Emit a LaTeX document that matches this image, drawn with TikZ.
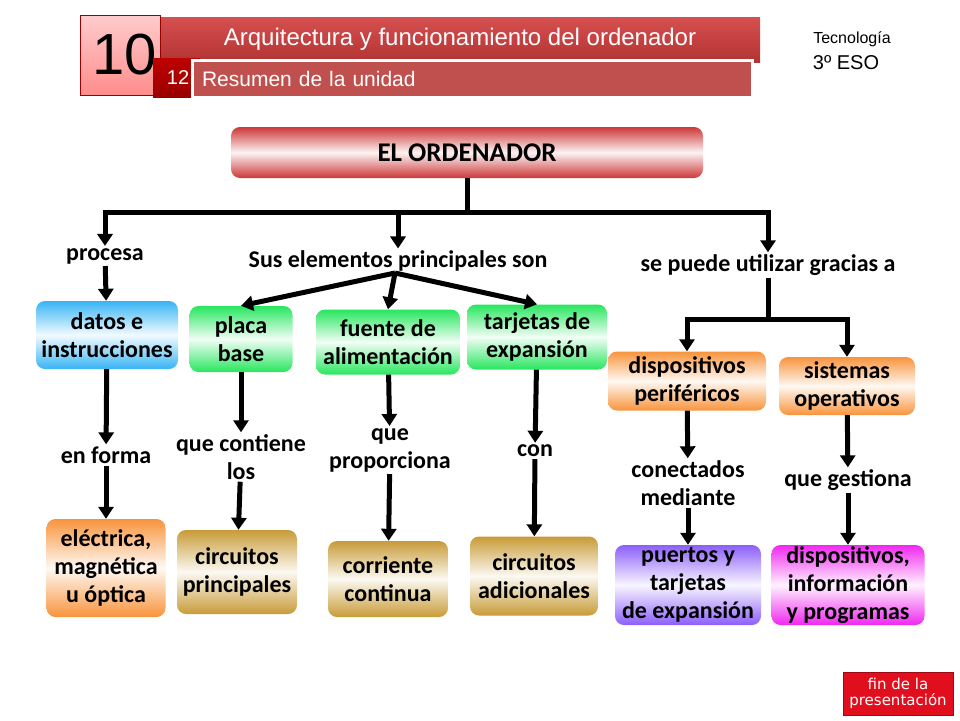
\documentclass[tikz,border=0pt]{standalone}
\usepackage{fontspec}
\setmainfont{Carlito}
\newfontfamily\arialfont{Liberation Sans}
\newfontfamily\btnfont{DejaVu Sans}
\usetikzlibrary{arrows.meta}

\definecolor{ordred}{RGB}{205,55,55}
\definecolor{datblue}{RGB}{55,180,245}
\definecolor{elemgreen}{RGB}{40,230,95}
\definecolor{perorange}{RGB}{248,148,60}
\definecolor{circgold}{RGB}{200,155,55}
\definecolor{portpurple}{RGB}{140,95,250}
\definecolor{infomag}{RGB}{240,40,240}
\definecolor{barred}{RGB}{210,60,60}
\definecolor{subred}{RGB}{192,80,77}
\definecolor{btnred}{RGB}{225,15,30}

\begin{document}
\begin{tikzpicture}[x=1pt, y=-1pt,
    box/.style={rounded corners=9pt, align=center, inner sep=0pt,
      font=\fontsize{24}{28}\selectfont\bfseries,
      shade, top color=#1, bottom color=#1, middle color=#1!6},
    lbl/.style={align=center, inner sep=2pt,
      font=\fontsize{24}{28}\selectfont\bfseries},
    arr/.style={line width=5pt, -{Triangle[length=12pt,width=15pt]}},
    trunk/.style={line width=5pt}]
    \useasboundingbox (0,0) rectangle (960,720);

    % cabecera
    \node[shade, top color=barred!90, bottom color=barred!85!black,
      minimum width=600pt, minimum height=45pt, inner sep=0pt,
      text=white, font=\arialfont\fontsize{24}{28}\selectfont]
      (titulo) at (460,39.5) {Arquitectura y funcionamiento del ordenador};
    \node[draw=red!60!black, line width=0.6pt, shade,
      top color=red!20, bottom color=red!45,
      minimum width=80pt, minimum height=80pt, inner sep=0pt,
      font=\arialfont\fontsize{58}{58}\selectfont]
      (unidad) at (120,55) {\hspace*{10pt}\raisebox{-3pt}{10}};
    \node[shade, top color=red!75!black, bottom color=red!60!black,
      minimum width=47pt, minimum height=39pt, inner sep=0pt,
      text=white, font=\arialfont\fontsize{20}{22}\selectfont]
      (tema) at (176.5,77.5) {\hspace*{3pt}12};
    \node[fill=subred, draw=white, line width=3pt,
      text width=540pt, align=left, inner xsep=10pt, minimum height=37pt,
      text=white, font=\arialfont\fontsize{21}{24}\selectfont]
      (resumen) at (472,78.5) {Resumen de la unidad};
    \node[font=\arialfont\fontsize{16}{18}\selectfont] (materia) at (852,39) {Tecnología};
    \node[font=\arialfont\fontsize{20}{22}\selectfont] (curso) at (846,63) {3º ESO};

    % nodo principal
    \node[box=ordred, minimum width=472pt, minimum height=51pt,
      font=\fontsize{27}{30}\selectfont\bfseries] (ord) at (467,152.5) {EL ORDENADOR};

    % etiquetas del primer nivel
    \node[lbl] (procesa) at (105,256) {procesa};
    \node[lbl] (sus) at (398,261) {Sus elementos principales son};
    \node[lbl] (gracias) at (768,265) {se puede utilizar gracias a};

    % cajas del segundo nivel
    \node[box=datblue, minimum width=142pt, minimum height=68pt] (datos) at (107,335) {datos e\\instrucciones};
    \node[box=elemgreen, minimum width=103pt, minimum height=66pt] (placa) at (241,339) {placa\\base};
    \node[box=elemgreen, minimum width=144pt, minimum height=65pt] (fuente) at (388,342) {fuente de\\alimentación};
    \node[box=elemgreen, minimum width=140pt, minimum height=65pt] (tarjetas) at (537,337) {tarjetas de\\expansión};
    \node[box=perorange, minimum width=158pt, minimum height=59pt] (perif) at (687,381) {dispositivos\\periféricos};
    \node[box=perorange, minimum width=136pt, minimum height=58pt] (sisop) at (847,386) {sistemas\\operativos};

    % etiquetas del tercer nivel
    \node[lbl] (enforma) at (106,455) {en forma};
    \node[lbl] (contiene) at (241,457) {que contiene\\los};
    \node[lbl] (proporciona) at (390,450) {que\\proporciona};
    \node[lbl] (con) at (535,451) {con};
    \node[lbl] (conectados) at (688,483) {conectados\\mediante};
    \node[lbl] (gestiona) at (848,480) {que gestiona};

    % cajas finales
    \node[box=perorange, minimum width=119pt, minimum height=98pt] (electrica) at (106,568) {eléctrica,\\magnética\\u óptica};
    \node[box=circgold, minimum width=120pt, minimum height=84pt] (cprinc) at (237,572) {circuitos\\principales};
    \node[box=circgold, minimum width=120pt, minimum height=76pt] (corriente) at (388,579) {corriente\\continua};
    \node[box=circgold, minimum width=128pt, minimum height=79pt] (cadic) at (534,576) {circuitos\\adicionales};
    \node[box=portpurple, minimum width=146pt, minimum height=80pt] (puertos) at (688,585) {puertos y\\tarjetas\\de expansión};
    \node[box=infomag, minimum width=153pt, minimum height=80pt] (dispinfo) at (848,585) {dispositivos,\\información\\y programas};

    % ramas
    \coordinate (hub) at (467,212);
    \coordinate (fork) at (395,273);
    \coordinate (split) at (768,319);
    \draw[trunk] (ord) -- (hub);
    \draw[arr] (hub) -| (procesa);
    \draw[arr] (hub) -| (sus);
    \draw[arr] (hub) -| (gracias);
    \draw[arr] (procesa) -- (datos);
    \draw[arr] (fork) -- (placa.north);
    \draw[arr] (fork) -- (fuente.north);
    \draw[arr] (fork) -- (tarjetas.north);
    \draw[trunk] (gracias) -- (split);
    \draw[arr] (split) -| (perif);
    \draw[arr] (split) -| (sisop);

    % flechas verticales
    \draw[arr] (datos) -- (enforma);
    \draw[arr] (enforma) -- (electrica);
    \draw[arr] (placa) -- (contiene);
    \draw[arr] (contiene) -- (cprinc);
    \draw[arr] (fuente) -- (proporciona);
    \draw[arr] (proporciona) -- (corriente);
    \draw[arr] (tarjetas) -- (con);
    \draw[arr] (con) -- (cadic);
    \draw[arr] (perif) -- (conectados);
    \draw[arr] (conectados) -- (puertos);
    \draw[arr] (sisop) -- (gestiona);
    \draw[arr] (gestiona) -- (dispinfo);

    % boton final
    \node[fill=btnred, draw=btnred!70!black, line width=0.8pt,
      minimum width=110pt, minimum height=43pt, inner sep=0pt, align=center,
      text=white, font=\btnfont\fontsize{15}{16}\selectfont]
      (fin) at (898,693.5) {fin de la\\presentación};
  \end{tikzpicture}
\end{document}
